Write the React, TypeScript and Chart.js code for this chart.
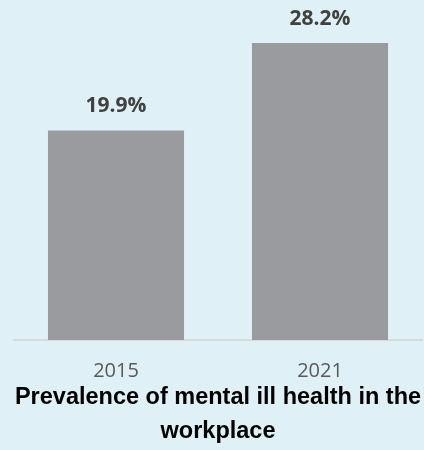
import React, { useEffect, useRef } from "react";
import { Chart, registerables } from "chart.js";

Chart.register(...registerables);

const categories = ["2015", "2021"];
const prevalence = [19.9, 28.2];
const titleLines = ["Prevalence of mental ill health in the", "workplace"];

const BG = "#dff1f6";

const valueLabels = {
  id: "valueLabels",
  afterDatasetsDraw(chart: any) {
    const ctx = chart.ctx;
    const meta = chart.getDatasetMeta(0);
    const data = chart.data.datasets[0].data as number[];
    ctx.save();
    ctx.font = "bold 21px 'Liberation Sans Narrow', 'Open Sans', sans-serif";
    ctx.fillStyle = "#404040";
    ctx.textAlign = "center";
    ctx.textBaseline = "alphabetic";
    meta.data.forEach((bar: any, i: number) => {
      ctx.fillText(data[i].toFixed(1) + "%", bar.x, bar.y - 18);
    });
    ctx.restore();
  },
};

export default function App() {
  const ref = useRef<HTMLCanvasElement>(null);
  useEffect(() => {
    document.body.style.margin = "0";
    const chart = new Chart(ref.current!, {
      type: "bar",
      data: {
        labels: categories,
        datasets: [
          {
            data: prevalence,
            backgroundColor: "#9a9b9f",
            categoryPercentage: 1,
            barPercentage: 0.667,
          },
        ],
      },
      options: {
        responsive: false,
        animation: false,
        devicePixelRatio: 1,
        layout: { padding: { top: 24, left: 14, right: 2, bottom: 1 } },
        plugins: {
          legend: { display: false },
          tooltip: { enabled: false },
          title: {
            display: true,
            position: "bottom",
            text: titleLines,
            color: "#000000",
            font: { family: "'Liberation Sans', Arial, sans-serif", size: 23.5, weight: "bold", lineHeight: 34 / 23.5 },
            padding: 0,
          },
        },
        scales: {
          x: {
            grid: { display: false, drawTicks: false },
            border: { display: true, color: "#d9d9d9", width: 2 },
            ticks: {
              color: "#595959",
              padding: 21,
              font: { family: "'Open Sans', sans-serif", size: 20, lineHeight: 1 },
            },
            afterFit: (scale: any) => {
              scale.height = 41;
            },
          },
          y: {
            display: false,
            min: 0,
            max: 30,
          },
        },
      },
      plugins: [valueLabels],
    });
    return () => chart.destroy();
  }, []);
  return (
    <div style={{ width: 424, height: 450, background: BG }}>
      <canvas ref={ref} width={424} height={450} style={{ display: "block" }} />
    </div>
  );
}
